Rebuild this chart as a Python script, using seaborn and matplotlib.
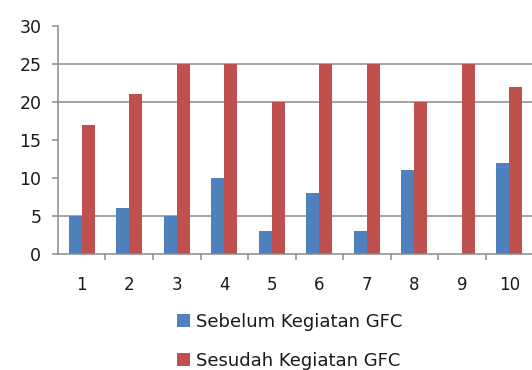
import matplotlib
matplotlib.use("Agg")
import matplotlib.pyplot as plt
from matplotlib.patches import Patch
from matplotlib.ticker import FixedLocator
import seaborn as sns
import pandas as pd

# Scores per participant, before and after the GFC activity
participants = ["1", "2", "3", "4", "5", "6", "7", "8", "9", "10"]
sebelum = [5, 6, 5, 10, 3, 8, 3, 11, 0, 12]
sesudah = [17, 21, 25, 25, 20, 25, 25, 20, 25, 22]
series_names = ["Sebelum Kegiatan GFC", "Sesudah Kegiatan GFC"]
y_ticks = [0, 5, 10, 15, 20, 25, 30]
grid_levels = [5, 20, 25]

colors = ["#4F81BD", "#C0504D"]
text_color = "#1a1a1a"
line_color = "#8a8a8a"

df = pd.DataFrame({
    "peserta": participants * 2,
    "nilai": sebelum + sesudah,
    "kelompok": [series_names[0]] * len(participants) + [series_names[1]] * len(participants),
})

sns.set_theme(style="white")
plt.rcParams["font.family"] = ["DejaVu Sans"]
plt.rcParams["axes.grid"] = False

fig = plt.figure(figsize=(5.32, 3.70), dpi=100)
ax = fig.add_axes([0.109, 0.3135, 0.893, 0.6162])

sns.barplot(data=df, x="peserta", y="nilai", hue="kelompok", order=participants,
            hue_order=series_names, palette=colors, width=0.55, saturation=1,
            ax=ax, legend=False, linewidth=0)

ax.grid(False)
ax.yaxis.grid(False)
ax.set_ylim(0, 30)
ax.set_xlim(-0.5, len(participants) - 0.5)
ax.set_yticks(y_ticks)
ax.set_xlabel("")
ax.set_ylabel("")

# Horizontal reference lines behind the bars
ax.hlines(grid_levels, -0.5, len(participants) - 0.5, colors=line_color,
          linewidth=1.1, zorder=0)

for side in ["top", "right"]:
    ax.spines[side].set_visible(False)
for side in ["left", "bottom"]:
    ax.spines[side].set_color(line_color)
    ax.spines[side].set_linewidth(1.1)

ax.tick_params(axis="y", length=4, width=1.1, color=line_color, pad=8,
               labelsize=12.5, labelcolor=text_color, left=True)
ax.tick_params(axis="x", which="major", length=0, pad=16,
               labelsize=12, labelcolor=text_color)
ax.xaxis.set_minor_locator(FixedLocator([i + 0.5 for i in range(len(participants) - 1)]))
ax.tick_params(axis="x", which="minor", length=4, width=1.1, color=line_color,
               bottom=True, direction="out")

handles = [Patch(facecolor=c, edgecolor="none") for c in colors]
fig.legend(handles, series_names, loc="center", bbox_to_anchor=(0.545, 0.078),
           frameon=False, fontsize=13, labelcolor=text_color,
           handlelength=0.7, handleheight=0.7, handletextpad=0.35,
           labelspacing=1.15, ncol=1, borderpad=0)

fig.savefig("out.png", dpi=100)
